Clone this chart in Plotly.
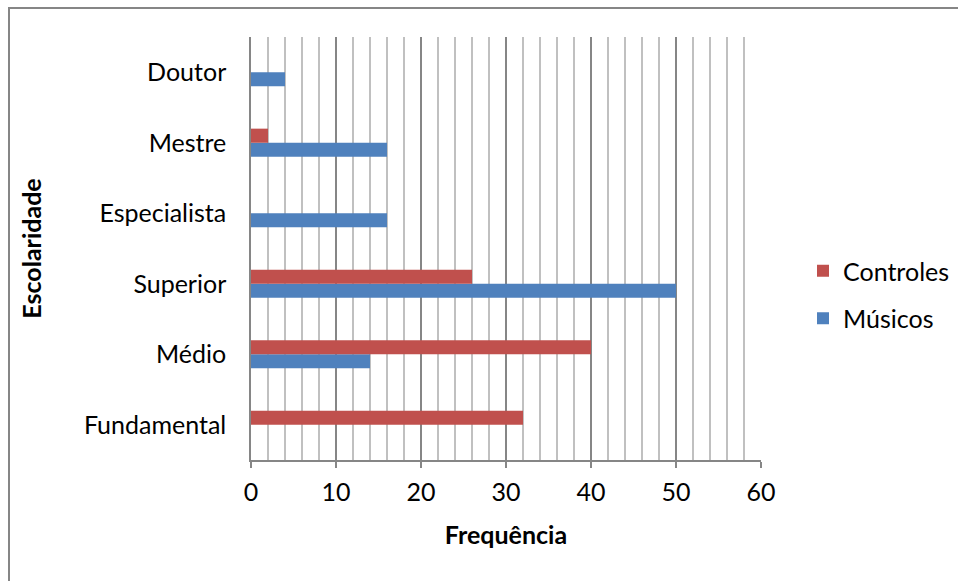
import plotly.graph_objects as go

# Education level categories (bottom to top)
categorias = ["Fundamental", "Médio", "Superior", "Especialista", "Mestre", "Doutor"]

# Frequency per group
musicos = [0, 14, 50, 16, 16, 4]
controles = [32, 40, 26, 0, 2, 0]

eixo_x_ticks = [0, 10, 20, 30, 40, 50, 60]

COR_CONTROLES = "#C0504D"
COR_MUSICOS = "#4F81BD"
FONTE = "Lato"

fig = go.Figure()
fig.add_trace(go.Bar(
    y=categorias, x=musicos, orientation="h", name="Músicos",
    marker=dict(color=COR_MUSICOS, line=dict(width=0)),
    legendgroup="m", legendrank=2,
))
fig.add_trace(go.Bar(
    y=categorias, x=controles, orientation="h", name="Controles",
    marker=dict(color=COR_CONTROLES, line=dict(width=0)),
    legendgroup="c", legendrank=1,
))

W, H = 958, 581
L, R, T, B = 251, 197, 37, 121
pw, ph = W - L - R, H - T - B

def px_x(p):
    return (p - L) / pw

def px_y(p):
    return 1 + (T - p) / ph

fig.update_layout(
    width=W, height=H,
    margin=dict(l=L, r=R, t=T, b=B, pad=0),
    paper_bgcolor="white", plot_bgcolor="white",
    barmode="group", bargap=0.6, bargroupgap=0,
    font=dict(family=FONTE, size=25, color="black"),
    legend=dict(
        xref="container", yref="container",
        x=803 / W, y=1 - 248 / H, xanchor="left", yanchor="top",
        traceorder="grouped", tracegroupgap=12,
        font=dict(family=FONTE, size=25, color="black"),
        bgcolor="rgba(0,0,0,0)",
    ),
    xaxis=dict(
        range=[0, 60], tickvals=eixo_x_ticks,
        showgrid=True, gridcolor="#868686", gridwidth=1.5,
        showline=True, linecolor="#868686", linewidth=1.5,
        ticks="outside", ticklen=6, tickcolor="#868686", tickwidth=1.5,
        ticklabelstandoff=3,
        zeroline=False,
        minor=dict(dtick=2, showgrid=True, gridcolor="#C0C0C0", gridwidth=1.5, ticks=""),
        title=dict(text="<b>Frequência</b>", font=dict(family=FONTE, size=25), standoff=22),
        automargin=True,
        tickfont=dict(family=FONTE, size=25),
        fixedrange=True,
    ),
    yaxis=dict(
        categoryorder="array", categoryarray=categorias,
        showgrid=False, showline=True, linecolor="#868686", linewidth=1.5,
        ticks="", ticklabelstandoff=18,
        title=dict(text="<b>Escolaridade</b>", font=dict(family=FONTE, size=25), standoff=35),
        automargin=True,
        tickfont=dict(family=FONTE, size=25),
        fixedrange=True,
    ),
    shapes=[dict(
        type="rect", xref="paper", yref="paper",
        x0=px_x(9), y0=px_y(700), x1=px_x(1100), y1=px_y(8),
        line=dict(color="#868686", width=2), fillcolor="rgba(0,0,0,0)",
        layer="below",
    )],
)

fig.write_html("out.html", config=dict(displayModeBar=False))
